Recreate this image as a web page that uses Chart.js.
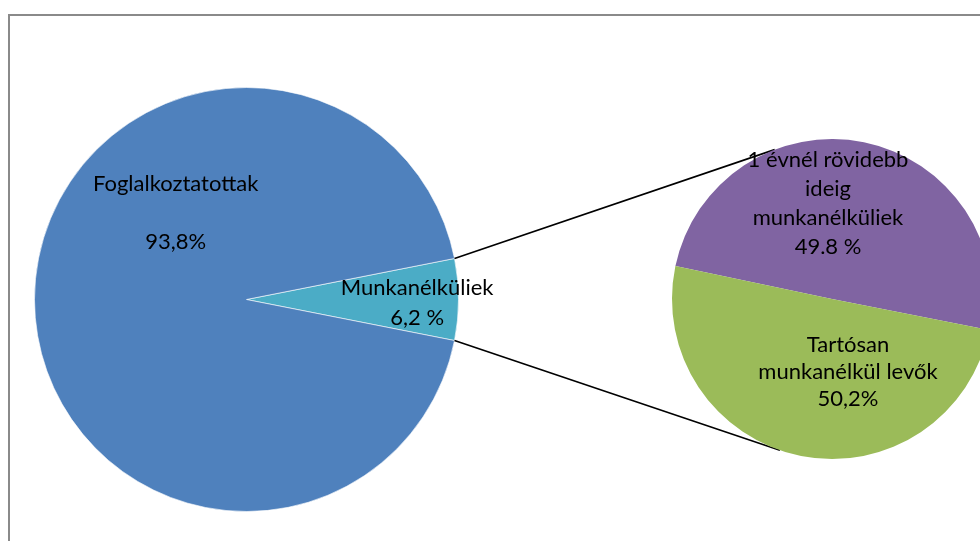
<!DOCTYPE html>
<html>
<head>
<meta charset="utf-8">
<script src="https://cdn.jsdelivr.net/npm/chart.js"></script>
<style>
  html, body { margin: 0; padding: 0; background: #fff; overflow: hidden; }
  #stage { position: relative; width: 980px; height: 541px; overflow: hidden; }
  #frame { position: absolute; left: 8px; top: 14px; width: 1200px; height: 800px;
           border-top: 2px solid #8a8a8a; border-left: 2px solid #8a8a8a; }
  .layer { position: absolute; left: 0; top: 0; }
</style>
</head>
<body>
<div id="stage">
  <div id="frame"></div>
  <canvas id="mainPie" class="layer" width="1000" height="541"></canvas>
  <canvas id="subPie" class="layer" width="1000" height="541"></canvas>
</div>
<script>
// main pie
const mainLabels = ['Munkanélküliek', 'Foglalkoztatottak'];
const mainValues = [6.2, 93.8];
const mainColors = ['#4BACC6', '#4F81BD'];
const mainText = [['Munkanélküliek', '6,2 %'], ['Foglalkoztatottak', '', '93,8%']];

// breakdown of the unemployed
const subLabels = ['1 évnél rövidebb ideig munkanélküliek', 'Tartósan munkanélkül levők'];
const subValues = [49.8, 50.2];
const subColors = ['#8064A2', '#9BBB59'];
const subText = [['1 évnél rövidebb', 'ideig', 'munkanélküliek', '49.8 %'], ['Tartósan', 'munkanélkül levők', '50,2%']];

const sum = a => a.reduce((s, v) => s + v, 0);
const halfSlice = mainValues[0] / sum(mainValues) * 180;   // cut slice centered at 3 o'clock

// text placement per slice, as offsets from the pie center in radius units
const sliceText = {
  id: 'sliceText',
  afterDraw(chart, args, opts) {
    const ctx = chart.ctx;
    const arc = chart.getDatasetMeta(0).data[0];
    const r = arc.outerRadius;
    ctx.save();
    ctx.fillStyle = '#000';
    ctx.font = '22px Lato';
    ctx.textAlign = 'center';
    ctx.textBaseline = 'middle';
    opts.lines.forEach((lines, i) => {
      const [ox, oy] = opts.offsets[i];
      const cx = arc.x + ox * r;
      const top = arc.y + oy * r - (lines.length - 1) * opts.lineHeight[i] / 2;
      lines.forEach((t, k) => ctx.fillText(t, cx, top + k * opts.lineHeight[i]));
    });
    ctx.restore();
  }
};

// lines from the cut slice to the second pie
const connectors = {
  id: 'connectors',
  beforeDatasetsDraw(chart, args, opts) {
    const src = opts.source.getDatasetMeta(0).data[0];
    const dst = chart.getDatasetMeta(0).data[0];
    const ctx = chart.ctx;
    const ends = [src.startAngle, src.endAngle];
    ctx.save();
    ctx.strokeStyle = '#000';
    ctx.lineWidth = 1.6;
    ends.forEach((a, i) => {
      const b = opts.angles[i] * Math.PI / 180;
      ctx.beginPath();
      ctx.moveTo(src.x + Math.cos(a) * src.outerRadius, src.y + Math.sin(a) * src.outerRadius);
      ctx.lineTo(dst.x + Math.cos(b) * dst.outerRadius, dst.y + Math.sin(b) * dst.outerRadius);
      ctx.stroke();
    });
    ctx.restore();
  }
};

const mainChart = new Chart(document.getElementById('mainPie'), {
  type: 'pie',
  data: {
    labels: mainLabels,
    datasets: [{ data: mainValues, backgroundColor: mainColors, borderColor: 'rgba(255,255,255,0.6)', borderWidth: 1 }]
  },
  options: {
    responsive: false,
    animation: false,
    events: [],
    rotation: 90 - halfSlice,
    layout: { padding: { left: 34, right: 541, top: 87, bottom: 29 } },
    plugins: {
      legend: { display: false },
      tooltip: { enabled: false },
      sliceText: { lines: mainText, offsets: [[0.805, 0.016], [-0.334, -0.407]], lineHeight: [30, 29] }
    }
  },
  plugins: [sliceText]
});

new Chart(document.getElementById('subPie'), {
  type: 'pie',
  data: {
    labels: subLabels,
    datasets: [{ data: subValues, backgroundColor: subColors, borderWidth: 0 }]
  },
  options: {
    responsive: false,
    animation: false,
    events: [],
    rotation: 90 + halfSlice + 360 * subValues[1] / sum(subValues),
    layout: { padding: { left: 672, right: 8, top: 139, bottom: 82 } },
    plugins: {
      legend: { display: false },
      tooltip: { enabled: false },
      connectors: { source: mainChart, angles: [-111, 109] },
      sliceText: { lines: subText, offsets: [[-0.025, -0.6], [0.1, 0.456]], lineHeight: [29, 27] }
    }
  },
  plugins: [connectors, sliceText]
});
</script>
</body>
</html>
